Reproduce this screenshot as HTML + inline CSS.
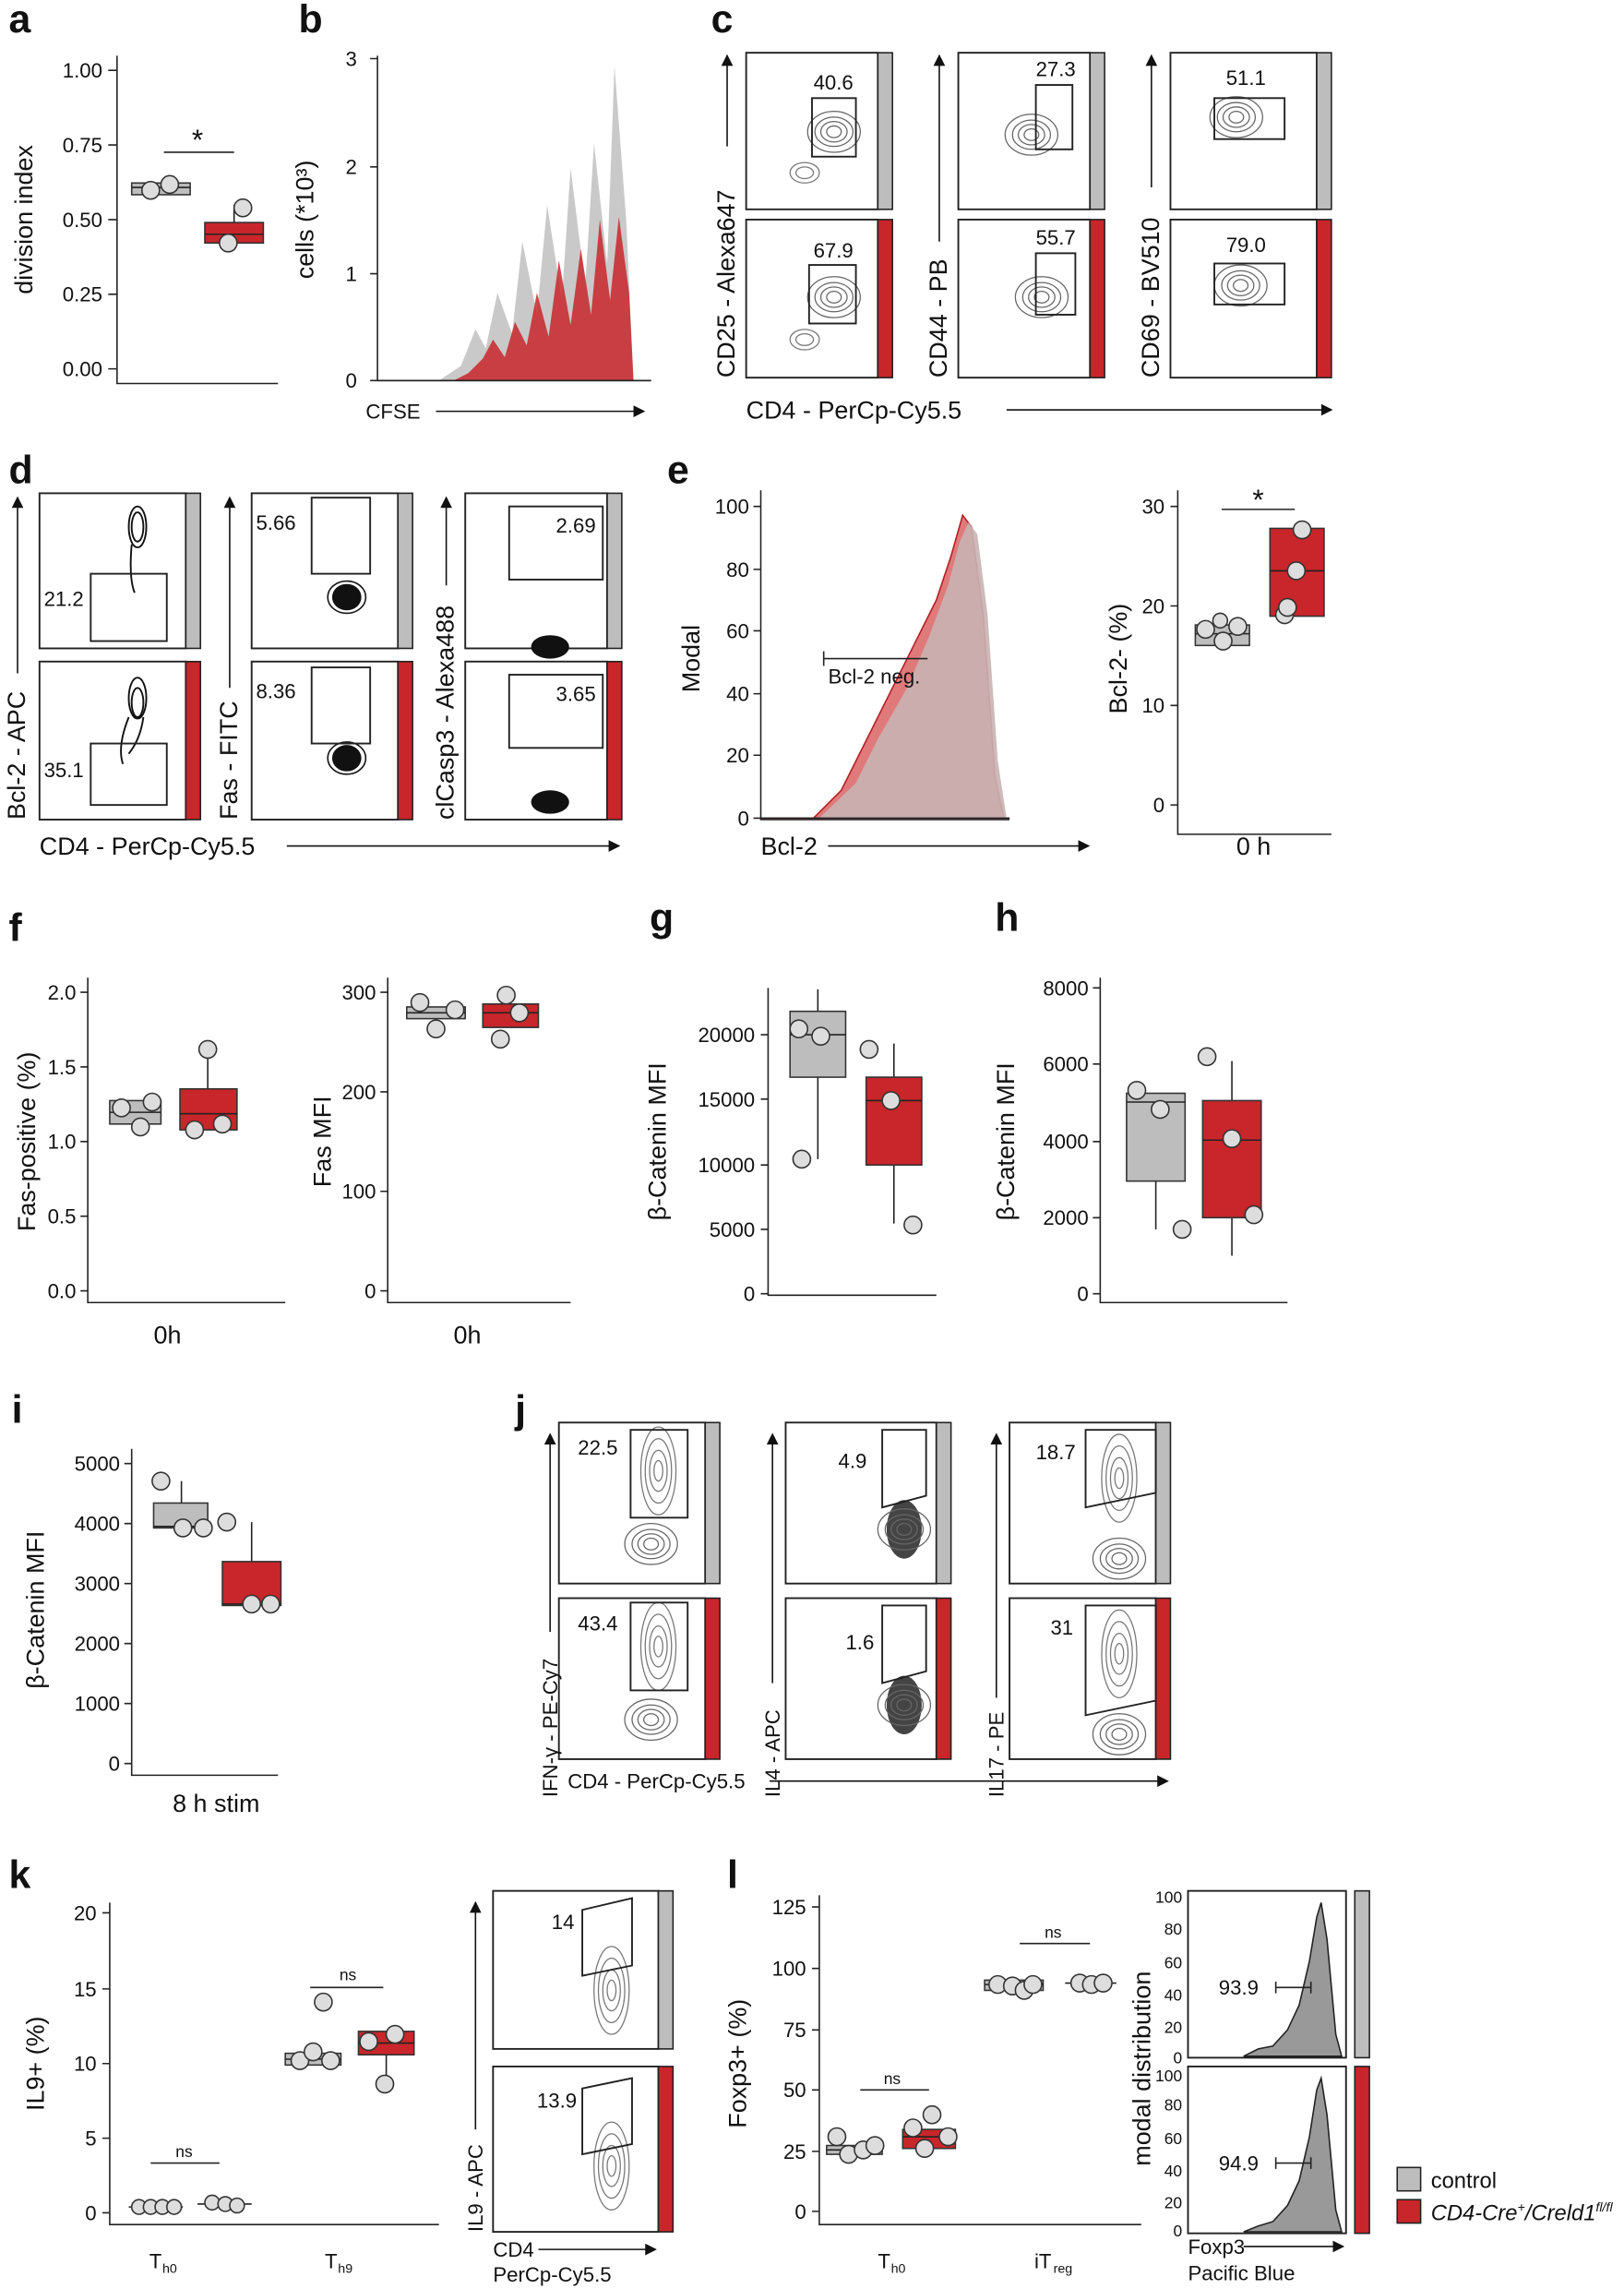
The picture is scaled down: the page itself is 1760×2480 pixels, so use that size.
<!DOCTYPE html>
<html><head><meta charset="utf-8"><style>
html,body{margin:0;padding:0;background:#fff}
svg{display:block}
text{font-family:"Liberation Sans",Arial,sans-serif;fill:#111}
.L{font-size:27px;font-weight:bold}
.t{font-size:14px}
.a{font-size:17px}
.n{font-size:14px}
.ax{stroke:#222;stroke-width:1;fill:none}
.g{fill:#bdbdbd;stroke:#333;stroke-width:1}
.r{fill:#c8262a;stroke:#333;stroke-width:1}
.c{fill:#ddd;stroke:#333;stroke-width:1}
.fr{fill:#fff;stroke:#222;stroke-width:1.2}
.gate{fill:none;stroke:#222;stroke-width:1.2}
</style></head><body>
<svg width="1760" height="2480" viewBox="0 0 1110 1564" xmlns="http://www.w3.org/2000/svg">
<defs>
<marker id="ar" markerWidth="8" markerHeight="8" refX="7" refY="4" orient="auto"><path d="M0,0 L8,4 L0,8 z" fill="#111"/></marker>
<g id="blob"><ellipse rx="18" ry="14" fill="none" stroke="#666" stroke-width=".8"/><ellipse rx="13" ry="10" fill="none" stroke="#666" stroke-width=".8"/><ellipse rx="9" ry="7" fill="none" stroke="#666" stroke-width=".8"/><ellipse rx="5" ry="4" fill="none" stroke="#666" stroke-width=".8"/></g>
<g id="sblob"><ellipse rx="10" ry="7" fill="none" stroke="#777" stroke-width=".8"/><ellipse rx="6" ry="4" fill="none" stroke="#777" stroke-width=".8"/></g>
<g id="dblob"><ellipse rx="10" ry="9" fill="#111"/><ellipse rx="13" ry="11" fill="none" stroke="#111"/></g>
<g id="vblob"><ellipse rx="12" ry="30" fill="none" stroke="#777" stroke-width=".8"/><ellipse rx="9" ry="22" fill="none" stroke="#777" stroke-width=".8"/><ellipse rx="6" ry="14" fill="none" stroke="#777" stroke-width=".8"/><ellipse rx="3" ry="7" fill="none" stroke="#777" stroke-width=".8"/></g>
</defs>

<!-- a -->
<text class="L" x="6" y="22">a</text>
<text class="t" x="70" y="53" text-anchor="end">1.00</text>
<text class="t" x="70" y="104" text-anchor="end">0.75</text>
<text class="t" x="70" y="155" text-anchor="end">0.50</text>
<text class="t" x="70" y="206" text-anchor="end">0.25</text>
<text class="t" x="70" y="257" text-anchor="end">0.00</text>
<path class="ax" d="M74,48h6M74,99h6M74,150h6M74,201h6M74,252h6"/>
<path class="ax" d="M80,38V262H190"/>
<text class="a" transform="translate(22,150) rotate(-90)" text-anchor="middle">division index</text>
<path class="ax" d="M112,104H160"/><text x="135" y="102" font-size="20" text-anchor="middle">*</text>
<rect class="g" x="90" y="125" width="40" height="8"/><path class="ax" d="M90,128H130"/>
<rect class="r" x="140" y="152" width="40" height="14"/><path class="ax" d="M140,160H180M160,152V140"/>
<circle class="c" cx="103" cy="130" r="6"/><circle class="c" cx="116" cy="126" r="6"/><circle class="c" cx="156" cy="166" r="6"/><circle class="c" cx="166" cy="142" r="6"/>

<!-- b -->
<text class="L" x="204" y="22">b</text>
<path class="ax" d="M258,38V260H445"/>
<path class="ax" d="M253,40h5M253,114h5M253,187h5M253,260h5"/>
<text class="t" x="244" y="45" text-anchor="end">3</text><text class="t" x="244" y="119" text-anchor="end">2</text><text class="t" x="244" y="192" text-anchor="end">1</text><text class="t" x="244" y="265" text-anchor="end">0</text>
<text class="a" transform="translate(214,150) rotate(-90)" text-anchor="middle">cells (*10³)</text>
<path fill="#c9c9c9" d="M300,260 L315,250 L325,225 L332,238 L340,200 L350,228 L357,165 L367,215 L374,140 L384,205 L390,115 L400,195 L406,98 L415,180 L420,45 L428,150 L433,260 Z"/>
<path fill="#c8262a" d="M310,260 L320,255 L330,245 L337,232 L345,244 L352,220 L360,236 L367,200 L375,230 L382,178 L390,222 L397,170 L404,215 L410,150 L417,205 L423,148 L430,200 L433,260 Z" opacity=".85"/>
<path class="ax" d="M258,260H445"/>
<text class="t" x="250" y="286">CFSE</text><path d="M298,281H440" stroke="#111" marker-end="url(#ar)"/>

<!-- c -->
<text class="L" x="486" y="22">c</text>
<rect class="fr" x="510" y="36" width="90" height="107"/><rect x="600" y="36" width="10" height="107" fill="#bdbdbd" stroke="#222"/>
<rect class="fr" x="510" y="150" width="90" height="108"/><rect x="600" y="150" width="10" height="108" fill="#c8262a" stroke="#222"/>
<rect class="fr" x="655" y="36" width="90" height="107"/><rect x="745" y="36" width="10" height="107" fill="#bdbdbd" stroke="#222"/>
<rect class="fr" x="655" y="150" width="90" height="108"/><rect x="745" y="150" width="10" height="108" fill="#c8262a" stroke="#222"/>
<rect class="fr" x="800" y="36" width="100" height="107"/><rect x="900" y="36" width="10" height="107" fill="#bdbdbd" stroke="#222"/>
<rect class="fr" x="800" y="150" width="100" height="108"/><rect x="900" y="150" width="10" height="108" fill="#c8262a" stroke="#222"/>
<use href="#sblob" x="550" y="118"/><use href="#blob" x="570" y="90"/><rect class="gate" x="555" y="67" width="30" height="40"/><text class="n" x="556" y="61">40.6</text>
<use href="#sblob" x="550" y="232"/><use href="#blob" x="570" y="203"/><rect class="gate" x="553" y="181" width="32" height="40"/><text class="n" x="556" y="176">67.9</text>
<use href="#blob" x="705" y="92"/><rect class="gate" x="708" y="58" width="25" height="44"/><text class="n" x="708" y="52">27.3</text>
<use href="#blob" x="712" y="203"/><rect class="gate" x="708" y="173" width="27" height="42"/><text class="n" x="708" y="167">55.7</text>
<use href="#blob" x="845" y="80"/><rect class="gate" x="830" y="67" width="48" height="28"/><text class="n" x="838" y="58">51.1</text>
<use href="#blob" x="848" y="195"/><rect class="gate" x="830" y="180" width="48" height="28"/><text class="n" x="838" y="172">79.0</text>
<text class="a" transform="translate(502,258) rotate(-90)">CD25 - Alexa647</text><path d="M497,100V38" stroke="#111" marker-end="url(#ar)"/>
<text class="a" transform="translate(647,258) rotate(-90)">CD44 - PB</text><path d="M642,165V38" stroke="#111" marker-end="url(#ar)"/>
<text class="a" transform="translate(792,258) rotate(-90)">CD69 - BV510</text><path d="M787,128V38" stroke="#111" marker-end="url(#ar)"/>
<text class="a" x="510" y="286">CD4 - PerCp-Cy5.5</text><path d="M688,280H910" stroke="#111" marker-end="url(#ar)"/>

<!-- d -->
<text class="L" x="6" y="330">d</text>
<rect class="fr" x="27" y="337" width="100" height="106"/><rect x="127" y="337" width="10" height="106" fill="#bdbdbd" stroke="#222"/>
<rect class="fr" x="27" y="452" width="100" height="108"/><rect x="127" y="452" width="10" height="108" fill="#c8262a" stroke="#222"/>
<rect class="fr" x="172" y="337" width="100" height="106"/><rect x="272" y="337" width="10" height="106" fill="#bdbdbd" stroke="#222"/>
<rect class="fr" x="172" y="452" width="100" height="108"/><rect x="272" y="452" width="10" height="108" fill="#c8262a" stroke="#222"/>
<rect class="fr" x="318" y="337" width="97" height="106"/><rect x="415" y="337" width="10" height="106" fill="#bdbdbd" stroke="#222"/>
<rect class="fr" x="318" y="452" width="97" height="108"/><rect x="415" y="452" width="10" height="108" fill="#c8262a" stroke="#222"/>
<g fill="none" stroke="#111" stroke-width="1.2"><ellipse cx="94" cy="360" rx="6" ry="14"/><ellipse cx="94" cy="360" rx="4" ry="10"/><path d="M90,372 Q88,395 92,405"/></g>
<g fill="none" stroke="#111" stroke-width="1.2"><ellipse cx="94" cy="477" rx="6" ry="14"/><ellipse cx="94" cy="480" rx="4" ry="10"/><path d="M88,490 Q80,510 84,522 M98,490 Q96,505 88,515"/></g>
<rect class="gate" x="62" y="392" width="52" height="46"/><text class="n" x="30" y="414">21.2</text>
<rect class="gate" x="62" y="508" width="52" height="42"/><text class="n" x="30" y="531">35.1</text>
<use href="#dblob" x="237" y="408"/><rect class="gate" x="213" y="340" width="40" height="52"/><text class="n" x="175" y="362">5.66</text>
<use href="#dblob" x="237" y="518"/><rect class="gate" x="213" y="456" width="40" height="52"/><text class="n" x="175" y="477">8.36</text>
<ellipse cx="376" cy="442" rx="13" ry="8" fill="#111"/><rect class="gate" x="348" y="346" width="64" height="50"/><text class="n" x="380" y="364">2.69</text>
<ellipse cx="376" cy="548" rx="13" ry="8" fill="#111"/><rect class="gate" x="348" y="461" width="64" height="50"/><text class="n" x="380" y="479">3.65</text>
<text class="a" transform="translate(17,560) rotate(-90)">Bcl-2 - APC</text><path d="M12,460V340" stroke="#111" marker-end="url(#ar)"/>
<text class="a" transform="translate(162,560) rotate(-90)">Fas - FITC</text><path d="M157,470V340" stroke="#111" marker-end="url(#ar)"/>
<text class="a" transform="translate(310,560) rotate(-90)">clCasp3 - Alexa488</text><path d="M305,400V340" stroke="#111" marker-end="url(#ar)"/>
<text class="a" x="27" y="584">CD4 - PerCp-Cy5.5</text><path d="M196,578H423" stroke="#111" marker-end="url(#ar)"/>

<!-- e -->
<text class="L" x="456" y="330">e</text>
<path class="ax" d="M520,335V560H690"/>
<path class="ax" d="M515,346h5M515,389h5M515,431h5M515,474h5M515,516h5M515,559h5"/>
<text class="t" x="512" y="351" text-anchor="end">100</text><text class="t" x="512" y="394" text-anchor="end">80</text><text class="t" x="512" y="436" text-anchor="end">60</text><text class="t" x="512" y="479" text-anchor="end">40</text><text class="t" x="512" y="521" text-anchor="end">20</text><text class="t" x="512" y="564" text-anchor="end">0</text>
<text class="a" transform="translate(478,450) rotate(-90)" text-anchor="middle">Modal</text>
<path fill="#e07a7a" stroke="#b32025" d="M520,559 L556,559 L575,540 L590,510 L600,490 L615,460 L625,440 L640,410 L650,380 L658,352 L664,360 L672,420 L680,530 L686,559 L690,559Z"/>
<path fill="#c9b2b2" opacity=".9" d="M560,559 L585,535 L600,505 L620,470 L635,435 L648,400 L656,370 L662,357 L668,365 L675,420 L682,520 L688,559Z"/>
<path class="ax" d="M520,559H690"/>
<path class="ax" d="M563,445V455M563,450H634"/><text class="t" x="566" y="467">Bcl-2 neg.</text>
<text class="a" x="520" y="584">Bcl-2</text><path d="M566,578H744" stroke="#111" marker-end="url(#ar)"/>
<path class="ax" d="M805,335V570H910"/>
<path class="ax" d="M800,346h5M800,414h5M800,482h5M800,550h5"/>
<text class="t" x="796" y="351" text-anchor="end">30</text><text class="t" x="796" y="419" text-anchor="end">20</text><text class="t" x="796" y="487" text-anchor="end">10</text><text class="t" x="796" y="555" text-anchor="end">0</text>
<text class="a" transform="translate(770,450) rotate(-90)" text-anchor="middle">Bcl-2- (%)</text>
<path class="ax" d="M835,348H885"/><text x="860" y="348" font-size="20" text-anchor="middle">*</text>
<rect class="g" x="817" y="427" width="37" height="14"/><path class="ax" d="M817,433H854"/>
<rect class="r" x="868" y="361" width="37" height="60"/><path class="ax" d="M868,390H905"/>
<circle class="c" cx="824" cy="430" r="6"/><circle class="c" cx="836" cy="438" r="6"/><circle class="c" cx="846" cy="428" r="6"/><circle class="c" cx="834" cy="424" r="5"/>
<circle class="c" cx="878" cy="420" r="6"/><circle class="c" cx="886" cy="390" r="6"/><circle class="c" cx="890" cy="362" r="6"/><circle class="c" cx="880" cy="415" r="6"/>
<text class="a" x="845" y="584">0 h</text>

<!-- f -->
<text class="L" x="6" y="643">f</text>
<path class="ax" d="M60,668V890H195"/>
<path class="ax" d="M55,678h5M55,729h5M55,780h5M55,831h5M55,882h5"/>
<text class="t" x="52" y="683" text-anchor="end">2.0</text><text class="t" x="52" y="734" text-anchor="end">1.5</text><text class="t" x="52" y="785" text-anchor="end">1.0</text><text class="t" x="52" y="836" text-anchor="end">0.5</text><text class="t" x="52" y="887" text-anchor="end">0.0</text>
<text class="a" transform="translate(24,780) rotate(-90)" text-anchor="middle">Fas-positive (%)</text>
<rect class="g" x="75" y="752" width="35" height="16"/><path class="ax" d="M75,760H110"/>
<rect class="r" x="123" y="744" width="39" height="28"/><path class="ax" d="M123,761H162M142,744V716"/>
<circle class="c" cx="83" cy="757" r="6"/><circle class="c" cx="96" cy="770" r="6"/><circle class="c" cx="104" cy="753" r="6"/><circle class="c" cx="133" cy="772" r="6"/><circle class="c" cx="152" cy="768" r="6"/><circle class="c" cx="142" cy="717" r="6"/>
<text class="a" x="105" y="918">0h</text>
<path class="ax" d="M265,668V890H390"/>
<path class="ax" d="M260,678h5M260,746h5M260,814h5M260,882h5"/>
<text class="t" x="257" y="683" text-anchor="end">300</text><text class="t" x="257" y="751" text-anchor="end">200</text><text class="t" x="257" y="819" text-anchor="end">100</text><text class="t" x="257" y="887" text-anchor="end">0</text>
<text class="a" transform="translate(226,780) rotate(-90)" text-anchor="middle">Fas MFI</text>
<rect class="g" x="278" y="688" width="40" height="8"/><path class="ax" d="M278,692H318"/>
<rect class="r" x="330" y="686" width="38" height="16"/><path class="ax" d="M330,692H368"/>
<circle class="c" cx="287" cy="685" r="6"/><circle class="c" cx="298" cy="703" r="6"/><circle class="c" cx="311" cy="690" r="6"/><circle class="c" cx="346" cy="680" r="6"/><circle class="c" cx="355" cy="692" r="6"/><circle class="c" cx="342" cy="710" r="6"/>
<text class="a" x="310" y="918">0h</text>

<!-- g -->
<text class="L" x="444" y="636">g</text>
<path class="ax" d="M525,675V885H640"/>
<path class="ax" d="M520,707h5M520,751h5M520,796h5M520,840h5M520,884h5"/>
<text class="t" x="516" y="712" text-anchor="end">20000</text><text class="t" x="516" y="756" text-anchor="end">15000</text><text class="t" x="516" y="801" text-anchor="end">10000</text><text class="t" x="516" y="845" text-anchor="end">5000</text><text class="t" x="516" y="889" text-anchor="end">0</text>
<text class="a" transform="translate(455,780) rotate(-90)" text-anchor="middle">β-Catenin MFI</text>
<path class="ax" d="M559,691V676M559,736V792"/><rect class="g" x="540" y="691" width="38" height="45"/><path class="ax" d="M540,707H578"/>
<path class="ax" d="M611,736V713M611,796V836"/><rect class="r" x="592" y="736" width="38" height="60"/><path class="ax" d="M592,752H630"/>
<circle class="c" cx="546" cy="703" r="6"/><circle class="c" cx="561" cy="708" r="6"/><circle class="c" cx="548" cy="792" r="6"/><circle class="c" cx="594" cy="717" r="6"/><circle class="c" cx="609" cy="752" r="6"/><circle class="c" cx="624" cy="837" r="6"/>

<!-- h -->
<text class="L" x="680" y="636">h</text>
<path class="ax" d="M752,668V890H880"/>
<path class="ax" d="M747,675h5M747,727h5M747,780h5M747,832h5M747,884h5"/>
<text class="t" x="744" y="680" text-anchor="end">8000</text><text class="t" x="744" y="732" text-anchor="end">6000</text><text class="t" x="744" y="785" text-anchor="end">4000</text><text class="t" x="744" y="837" text-anchor="end">2000</text><text class="t" x="744" y="889" text-anchor="end">0</text>
<text class="a" transform="translate(693,780) rotate(-90)" text-anchor="middle">β-Catenin MFI</text>
<path class="ax" d="M790,807V840"/><rect class="g" x="770" y="747" width="40" height="60"/><path class="ax" d="M770,753H810"/>
<path class="ax" d="M842,752V725M842,832V858"/><rect class="r" x="822" y="752" width="40" height="80"/><path class="ax" d="M822,779H862"/>
<circle class="c" cx="777" cy="745" r="6"/><circle class="c" cx="793" cy="758" r="6"/><circle class="c" cx="808" cy="840" r="6"/><circle class="c" cx="825" cy="722" r="6"/><circle class="c" cx="842" cy="778" r="6"/><circle class="c" cx="857" cy="830" r="6"/>

<!-- i -->
<text class="L" x="8" y="972">i</text>
<path class="ax" d="M90,990V1213H190"/>
<path class="ax" d="M85,1000h5M85,1041h5M85,1082h5M85,1123h5M85,1164h5M85,1205h5"/>
<text class="t" x="82" y="1005" text-anchor="end">5000</text><text class="t" x="82" y="1046" text-anchor="end">4000</text><text class="t" x="82" y="1087" text-anchor="end">3000</text><text class="t" x="82" y="1128" text-anchor="end">2000</text><text class="t" x="82" y="1169" text-anchor="end">1000</text><text class="t" x="82" y="1210" text-anchor="end">0</text>
<text class="a" transform="translate(30,1100) rotate(-90)" text-anchor="middle">β-Catenin MFI</text>
<path class="ax" d="M124,1027V1012"/><rect class="g" x="105" y="1027" width="37" height="17"/><path class="ax" d="M105,1043H142"/>
<path class="ax" d="M172,1067V1040"/><rect class="r" x="152" y="1067" width="40" height="30"/><path class="ax" d="M152,1096H192"/>
<circle class="c" cx="110" cy="1012" r="6"/><circle class="c" cx="125" cy="1044" r="6"/><circle class="c" cx="139" cy="1044" r="6"/><circle class="c" cx="155" cy="1040" r="6"/><circle class="c" cx="172" cy="1096" r="6"/><circle class="c" cx="185" cy="1096" r="6"/>
<text class="a" x="118" y="1238">8 h stim</text>

<!-- j -->
<text class="L" x="352" y="972">j</text>
<rect class="fr" x="382" y="972" width="100" height="110"/><rect x="482" y="972" width="10" height="110" fill="#bdbdbd" stroke="#222"/>
<rect class="fr" x="382" y="1092" width="100" height="110"/><rect x="482" y="1092" width="10" height="110" fill="#c8262a" stroke="#222"/>
<rect class="fr" x="537" y="972" width="103" height="110"/><rect x="640" y="972" width="10" height="110" fill="#bdbdbd" stroke="#222"/>
<rect class="fr" x="537" y="1092" width="103" height="110"/><rect x="640" y="1092" width="10" height="110" fill="#c8262a" stroke="#222"/>
<rect class="fr" x="690" y="972" width="100" height="110"/><rect x="790" y="972" width="10" height="110" fill="#bdbdbd" stroke="#222"/>
<rect class="fr" x="690" y="1092" width="100" height="110"/><rect x="790" y="1092" width="10" height="110" fill="#c8262a" stroke="#222"/>
<use href="#vblob" x="450" y="1005"/><use href="#blob" x="445" y="1055"/><rect class="gate" x="431" y="977" width="39" height="60"/><text class="n" x="395" y="994">22.5</text>
<use href="#vblob" x="450" y="1125"/><use href="#blob" x="445" y="1175"/><rect class="gate" x="431" y="1095" width="39" height="60"/><text class="n" x="395" y="1114">43.4</text>
<ellipse cx="618" cy="1045" rx="12" ry="20" fill="#444"/><use href="#blob" x="618" y="1045"/><path class="gate" d="M603,977H633V1022L603,1030Z"/><text class="n" x="573" y="1003">4.9</text>
<ellipse cx="618" cy="1165" rx="12" ry="20" fill="#444"/><use href="#blob" x="618" y="1165"/><path class="gate" d="M603,1097H633V1142L603,1150Z"/><text class="n" x="578" y="1127">1.6</text>
<use href="#vblob" x="765" y="1010"/><use href="#blob" x="765" y="1065"/><path class="gate" d="M742,1030L790,1020V977H742Z"/><text class="n" x="708" y="997">18.7</text>
<use href="#vblob" x="765" y="1130"/><use href="#blob" x="765" y="1185"/><path class="gate" d="M742,1172L790,1162V1097H742Z"/><text class="n" x="718" y="1117">31</text>
<text font-size="14" transform="translate(381,1228) rotate(-90)">IFN-γ - PE-Cy7</text><path d="M376,1115V980" stroke="#111" marker-end="url(#ar)"/>
<text font-size="14" transform="translate(533,1228) rotate(-90)">IL4 - APC</text><path d="M528,1150V980" stroke="#111" marker-end="url(#ar)"/>
<text font-size="14" transform="translate(686,1228) rotate(-90)">IL17 - PE</text><path d="M681,1160V980" stroke="#111" marker-end="url(#ar)"/>
<text font-size="14" x="388" y="1222">CD4 - PerCp-Cy5.5</text><path d="M526,1217H798" stroke="#111" marker-end="url(#ar)"/>

<!-- k -->
<text class="L" x="6" y="1290">k</text>
<path class="ax" d="M75,1300V1520H300"/>
<path class="ax" d="M70,1307h5M70,1359h5M70,1410h5M70,1461h5M70,1512h5"/>
<text class="t" x="66" y="1312" text-anchor="end">20</text><text class="t" x="66" y="1364" text-anchor="end">15</text><text class="t" x="66" y="1415" text-anchor="end">10</text><text class="t" x="66" y="1466" text-anchor="end">5</text><text class="t" x="66" y="1517" text-anchor="end">0</text>
<text class="a" transform="translate(30,1410) rotate(-90)" text-anchor="middle">IL9+ (%)</text>
<path class="ax" d="M103,1478H150"/><text font-size="11" x="120" y="1474">ns</text>
<path class="ax" d="M88,1508H125M135,1506H172"/>
<g fill="#ddd" stroke="#333"><circle cx="95" cy="1508" r="5"/><circle cx="103" cy="1508" r="5"/><circle cx="111" cy="1508" r="5"/><circle cx="119" cy="1508" r="5"/><circle cx="145" cy="1505" r="5"/><circle cx="154" cy="1506" r="5"/><circle cx="162" cy="1507" r="5"/></g>
<path class="ax" d="M212,1358H262"/><text font-size="11" x="232" y="1353">ns</text>
<rect class="g" x="195" y="1403" width="38" height="8"/><path class="ax" d="M195,1407H233"/>
<rect class="r" x="245" y="1388" width="38" height="16"/><path class="ax" d="M245,1396H283M264,1404V1425"/>
<circle class="c" cx="221" cy="1368" r="6"/><circle class="c" cx="205" cy="1408" r="6"/><circle class="c" cx="214" cy="1402" r="6"/><circle class="c" cx="226" cy="1408" r="6"/>
<circle class="c" cx="252" cy="1395" r="6"/><circle class="c" cx="270" cy="1390" r="6"/><circle class="c" cx="263" cy="1424" r="6"/>
<text class="t" x="102" y="1550">T</text><text font-size="9" x="111" y="1553">h0</text>
<text class="t" x="222" y="1550">T</text><text font-size="9" x="231" y="1553">h9</text>
<rect class="fr" x="337" y="1292" width="113" height="108"/><rect x="450" y="1292" width="10" height="108" fill="#bdbdbd" stroke="#222"/>
<rect class="fr" x="337" y="1412" width="113" height="113"/><rect x="450" y="1412" width="10" height="113" fill="#c8262a" stroke="#222"/>
<use href="#vblob" x="418" y="1360"/><path class="gate" d="M398,1305L432,1297V1343L398,1350Z"/><text class="n" x="377" y="1318">14</text>
<use href="#vblob" x="418" y="1480"/><path class="gate" d="M398,1427L432,1420V1465L398,1472Z"/><text class="n" x="367" y="1440">13.9</text>
<text font-size="14" transform="translate(330,1525) rotate(-90)">IL9 - APC</text><path d="M325,1455V1300" stroke="#111" marker-end="url(#ar)"/>
<text font-size="14" x="337" y="1542">CD4</text><path d="M368,1537H448" stroke="#111" marker-end="url(#ar)"/>
<text font-size="14" x="337" y="1559">PerCp-Cy5.5</text>

<!-- l -->
<text class="L" x="497" y="1290">l</text>
<path class="ax" d="M560,1295V1520H780"/>
<path class="ax" d="M555,1303h5M555,1345h5M555,1387h5M555,1428h5M555,1470h5M555,1511h5"/>
<text class="t" x="551" y="1308" text-anchor="end">125</text><text class="t" x="551" y="1350" text-anchor="end">100</text><text class="t" x="551" y="1392" text-anchor="end">75</text><text class="t" x="551" y="1433" text-anchor="end">50</text><text class="t" x="551" y="1475" text-anchor="end">25</text><text class="t" x="551" y="1516" text-anchor="end">0</text>
<text class="a" transform="translate(510,1410) rotate(-90)" text-anchor="middle">Foxp3+ (%)</text>
<path class="ax" d="M588,1428H635"/><text font-size="11" x="604" y="1424">ns</text>
<rect class="g" x="565" y="1466" width="38" height="6"/><path class="ax" d="M565,1469H603"/>
<rect class="r" x="617" y="1455" width="36" height="13"/><path class="ax" d="M617,1460H653"/>
<circle class="c" cx="572" cy="1460" r="6"/><circle class="c" cx="580" cy="1472" r="6"/><circle class="c" cx="590" cy="1469" r="6"/><circle class="c" cx="598" cy="1466" r="6"/>
<circle class="c" cx="624" cy="1454" r="6"/><circle class="c" cx="637" cy="1445" r="6"/><circle class="c" cx="632" cy="1468" r="6"/><circle class="c" cx="648" cy="1460" r="6"/>
<path class="ax" d="M697,1328H745"/><text font-size="11" x="714" y="1324">ns</text>
<rect class="g" x="673" y="1353" width="40" height="7"/><path class="ax" d="M673,1356H713"/>
<path class="ax" d="M728,1355H763"/>
<circle class="c" cx="682" cy="1356" r="6"/><circle class="c" cx="692" cy="1357" r="6"/><circle class="c" cx="700" cy="1360" r="6"/><circle class="c" cx="706" cy="1356" r="6"/>
<circle class="c" cx="738" cy="1355" r="6"/><circle class="c" cx="746" cy="1356" r="6"/><circle class="c" cx="754" cy="1355" r="6"/>
<text class="t" x="600" y="1550">T</text><text font-size="9" x="609" y="1553">h0</text>
<text class="t" x="707" y="1550">iT</text><text font-size="9" x="720" y="1553">reg</text>
<rect class="fr" x="812" y="1292" width="108" height="114"/><rect x="926" y="1292" width="10" height="114" fill="#bdbdbd" stroke="#222"/>
<rect class="fr" x="812" y="1412" width="108" height="114"/><rect x="926" y="1412" width="10" height="114" fill="#c8262a" stroke="#222"/>
<path fill="#999" stroke="#222" d="M850,1405 L860,1400 L870,1398 L880,1387 L888,1370 L895,1340 L900,1310 L903,1300 L907,1325 L913,1390 L917,1405Z"/>
<path fill="#999" stroke="#222" d="M850,1525 L860,1521 L870,1518 L880,1507 L888,1490 L895,1460 L900,1428 L903,1420 L907,1445 L913,1510 L917,1525Z"/>
<path class="ax" d="M872,1358H896M872,1354V1362M896,1354V1362M872,1478H896M872,1474V1482M896,1474V1482"/>
<text class="n" x="833" y="1363">93.9</text><text class="n" x="833" y="1483">94.9</text>
<g font-size="11" text-anchor="end"><text x="808" y="1300">100</text><text x="808" y="1322">80</text><text x="808" y="1345">60</text><text x="808" y="1367">40</text><text x="808" y="1389">20</text><text x="808" y="1410">0</text>
<text x="808" y="1422">100</text><text x="808" y="1442">80</text><text x="808" y="1465">60</text><text x="808" y="1487">40</text><text x="808" y="1509">20</text><text x="808" y="1528">0</text></g>
<text class="a" transform="translate(786,1480) rotate(-90)">modal distribution</text>
<text font-size="14" x="812" y="1540">Foxp3</text><path d="M850,1535H918" stroke="#111" marker-end="url(#ar)"/>
<text font-size="14" x="812" y="1558">Pacific Blue</text>
<rect x="955" y="1481" width="16" height="16" fill="#bdbdbd" stroke="#222"/><text font-size="15" x="978" y="1495">control</text>
<rect x="955" y="1503" width="16" height="16" fill="#c8262a" stroke="#222"/><text font-size="15" x="978" y="1517" font-style="italic">CD4-Cre<tspan font-size="9" dy="-6">+</tspan><tspan dy="6">/Creld1</tspan><tspan font-size="9" dy="-6">fl/fl</tspan></text>
</svg>
</body></html>
